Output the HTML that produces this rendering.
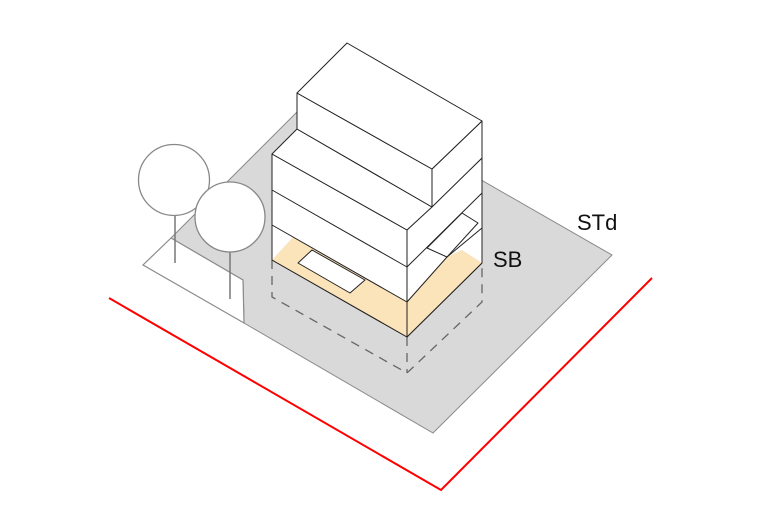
<!DOCTYPE html>
<html><head><style>html,body{margin:0;padding:0;background:#fff;}svg{display:block}</style></head>
<body>
<svg width="760" height="524" viewBox="0 0 760 524" xmlns="http://www.w3.org/2000/svg">
<rect width="760" height="524" fill="#fff"/>
<!-- ground -->
<polygon points="171,238 321,88 612,255 433,433 244,323 243,280" fill="#d9d9d9" stroke="#8a8a8a" stroke-width="1"/>
<!-- garden -->
<polyline points="171,238 143,265 244,323 243,280 171,238" fill="#fff" stroke="#8a8a8a" stroke-width="1.2"/>
<!-- red line -->
<polyline points="109,298 441,490 652,278" fill="none" stroke="#f00" stroke-width="2"/>
<!-- trees -->
<line x1="175" y1="214" x2="175" y2="263" stroke="#777" stroke-width="1.5"/>
<circle cx="174" cy="180" r="35.5" fill="#fff" stroke="#888" stroke-width="1.3"/>
<line x1="230" y1="252" x2="230" y2="299" stroke="#777" stroke-width="1.5"/>
<circle cx="230" cy="217" r="35" fill="#fff" stroke="#888" stroke-width="1.3"/>
<!-- dashed footprint -->
<polyline points="272,260 272,297 407,373 482,302 482,263" fill="none" stroke="#666" stroke-width="1.3" stroke-dasharray="9,7"/>
<line x1="407" y1="337" x2="407" y2="373" stroke="#666" stroke-width="1.3" stroke-dasharray="9,7"/>
<g stroke="#222" stroke-width="1" stroke-linejoin="round">
<!-- lower block faces -->
<polygon points="272,154 407,230 407,337 272,260" fill="#fff"/>
<polygon points="407,230 482,158 482,263 407,337" fill="#fff"/>
<polygon points="272,154 407,230 432,207 297,129" fill="#fff"/>
<!-- peach floor -->
<polygon points="272,260 293,237 407,302 407,337" fill="#fbe3ba" stroke="none"/>
<polygon points="407,302 447,257 462,250 482,263 407,337" fill="#fbe3ba" stroke="none"/>
<line x1="272" y1="260" x2="407" y2="337"/>
<line x1="407" y1="337" x2="482" y2="263"/>
<!-- level lines -->
<line x1="272" y1="190" x2="407" y2="267"/>
<line x1="272" y1="225" x2="407" y2="302"/>
<line x1="407" y1="267" x2="482" y2="193"/>
<line x1="407" y1="302" x2="447" y2="257"/>
<line x1="407" y1="230" x2="407" y2="337"/>
<line x1="272" y1="154" x2="272" y2="260"/>
<line x1="482" y1="158" x2="482" y2="263"/>
<!-- recess boxes -->
<polygon points="298,263 312,250 365,280 350,293" fill="#fff"/>
<polygon points="427,248 462,213 478,223 447,257" fill="#fff"/>
<line x1="447" y1="257" x2="482" y2="228"/>
<!-- top box -->
<polygon points="297,93 432,169 432,207 297,129" fill="#fff"/>
<polygon points="432,169 482,121 482,158 432,207" fill="#fff"/>
<polygon points="297,93 347,43 482,121 432,169" fill="#fff"/>
</g>
<text x="577" y="230" font-family="Liberation Sans, sans-serif" font-size="22" fill="#111">STd</text>
<text x="493" y="267" font-family="Liberation Sans, sans-serif" font-size="22" fill="#111">SB</text>
</svg>
</body></html>
